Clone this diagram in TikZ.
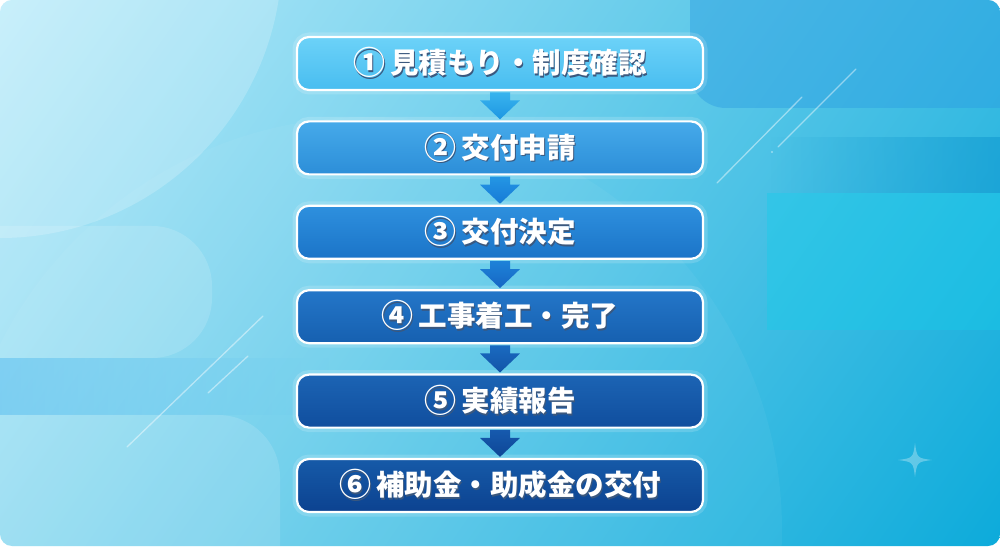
\documentclass[tikz,border=0pt]{standalone}
\usepackage{fontspec}
\newfontfamily\cjk{Noto Sans CJK JP}
\usetikzlibrary{calc,fadings}
\definecolor{bgA}{HTML}{C8F0FC}
\definecolor{bgB}{HTML}{00A6D8}
\definecolor{bandL}{HTML}{52B8F0}
\definecolor{blockTR}{HTML}{2C9EE2}
\definecolor{bandR}{HTML}{0890CC}
\definecolor{blockR}{HTML}{14CDEA}
\definecolor{bTa}{HTML}{6CD2F8}\definecolor{bBa}{HTML}{48BDF0}
\definecolor{bTb}{HTML}{46AAEA}\definecolor{bBb}{HTML}{2C8ED8}
\definecolor{bTc}{HTML}{2E90DE}\definecolor{bBc}{HTML}{1B74C8}
\definecolor{bTd}{HTML}{2476C8}\definecolor{bBd}{HTML}{1660B0}
\definecolor{bTe}{HTML}{1C64B4}\definecolor{bBe}{HTML}{104E9E}
\definecolor{bTf}{HTML}{165AA8}\definecolor{bBf}{HTML}{0C4290}
\definecolor{aTa}{HTML}{38B4EE}\definecolor{aBa}{HTML}{1E96E2}
\definecolor{aTb}{HTML}{2496E4}\definecolor{aBb}{HTML}{167AD6}
\definecolor{aTc}{HTML}{1E82D8}\definecolor{aBc}{HTML}{1666C4}
\definecolor{aTd}{HTML}{1A6AC0}\definecolor{aBd}{HTML}{1254A8}
\definecolor{aTe}{HTML}{165AAE}\definecolor{aBe}{HTML}{0E4696}
\definecolor{shadowc}{HTML}{0A2E5E}
\newcommand\circnum[1]{\raisebox{-1pt}{\fontsize{32}{32}\selectfont #1}}
\newcommand\shtext[2]{\makebox[0pt][l]{\hspace*{1.2pt}\raisebox{-1.8pt}{\textcolor{shadowc!80}{\circnum{#1}\hspace{5pt}#2}}}\circnum{#1}\hspace{5pt}#2}
\newcommand\flowarrow[4]{%
  \shade[top color=#3, bottom color=#4]
    ($(#1.south)+(-10,-1.2)$) -- ($(#2.north)+(-10,20)$) -- ($(#2.north)+(-20,20)$) --
    ($(#2.north)+(0,1)$) -- ($(#2.north)+(20,20)$) -- ($(#2.north)+(10,20)$) --
    ($(#1.south)+(10,-1.2)$) -- cycle;}
\tikzset{
  stepbox/.style 2 args={draw=white, line width=2.2pt, rounded corners=12pt,
    minimum width=406pt, minimum height=53pt, inner sep=0pt,
    top color=#1, bottom color=#2, text=white,
    font=\cjk\bfseries\fontsize{28.5}{32}\selectfont,
    preaction={draw=white, line width=9pt, draw opacity=0.16}},
  deco/.style={white, line width=1.3pt, opacity=0.45, line cap=round},
}
\begin{document}
\begin{tikzpicture}[x=1pt,y=1pt]
\useasboundingbox (0,0) rectangle (1000,546);
\fill[white] (0,0) rectangle (1000,546);
\begin{scope}
  \clip[rounded corners=12pt] (0,0) rectangle (1000,546);
  \shade[top color=bgA, bottom color=bgB, shading angle=55] (-200,-300) rectangle (1200,846);
  % top-left big circle
  \fill[white, opacity=0.2] (0,590) circle (282);
  % left middle rounded block
  \fill[white, opacity=0.14, rounded corners=60pt] (-80,188) rectangle (212,320);
  % left darker band
  \fill[bandL, fill opacity=0.45, path fading=east] (0,131) rectangle (330,188);
  % bottom-left rounded block
  \fill[white, opacity=0.13, rounded corners=62pt] (-80,-80) rectangle (280,131);
  % large faint circle bottom
  \fill[white, opacity=0.045] (369,16) circle (413);
  % top-right darker block
  \fill[blockTR, opacity=0.45, rounded corners=36pt] (690,438) rectangle (1100,620);
  % right dark band
  \fill[bandR, fill opacity=0.45, path fading=west] (770,353) rectangle (1000,409);
  % right light cyan block
  \fill[blockR, opacity=0.4] (767,216) rectangle (1000,353);
  % diagonal lines
  \draw[deco] (717,363) -- (802,449);
  \draw[deco] (778,399) -- (856,477);
  \fill[white, opacity=0.45] (772,394) circle (1.2);
  \draw[deco] (127,99) -- (263,230);
  \draw[deco] (208,153) -- (248,190);
  % sparkle
  \fill[white, opacity=0.3] (915,103) .. controls (917,88) .. (932,86)
     .. controls (917,84) .. (915,69) .. controls (913,84) .. (898,86)
     .. controls (913,88) .. cycle;
\end{scope}

\node[stepbox={bTa}{bBa}] (s1) at (500,482.5) {\shtext{①}{見積もり・制度確認}};
\node[stepbox={bTb}{bBb}] (s2) at (500,398.1) {\shtext{②}{交付申請}};
\node[stepbox={bTc}{bBc}] (s3) at (500,313.7) {\shtext{③}{交付決定}};
\node[stepbox={bTd}{bBd}] (s4) at (500,229.3) {\shtext{④}{工事着工・完了}};
\node[stepbox={bTe}{bBe}] (s5) at (500,144.9) {\shtext{⑤}{実績報告}};
\node[stepbox={bTf}{bBf}] (s6) at (500,60.5) {\shtext{⑥}{補助金・助成金の交付}};

\flowarrow{s1}{s2}{aTa}{aBa}
\flowarrow{s2}{s3}{aTb}{aBb}
\flowarrow{s3}{s4}{aTc}{aBc}
\flowarrow{s4}{s5}{aTd}{aBd}
\flowarrow{s5}{s6}{aTe}{aBe}
\end{tikzpicture}
\end{document}
